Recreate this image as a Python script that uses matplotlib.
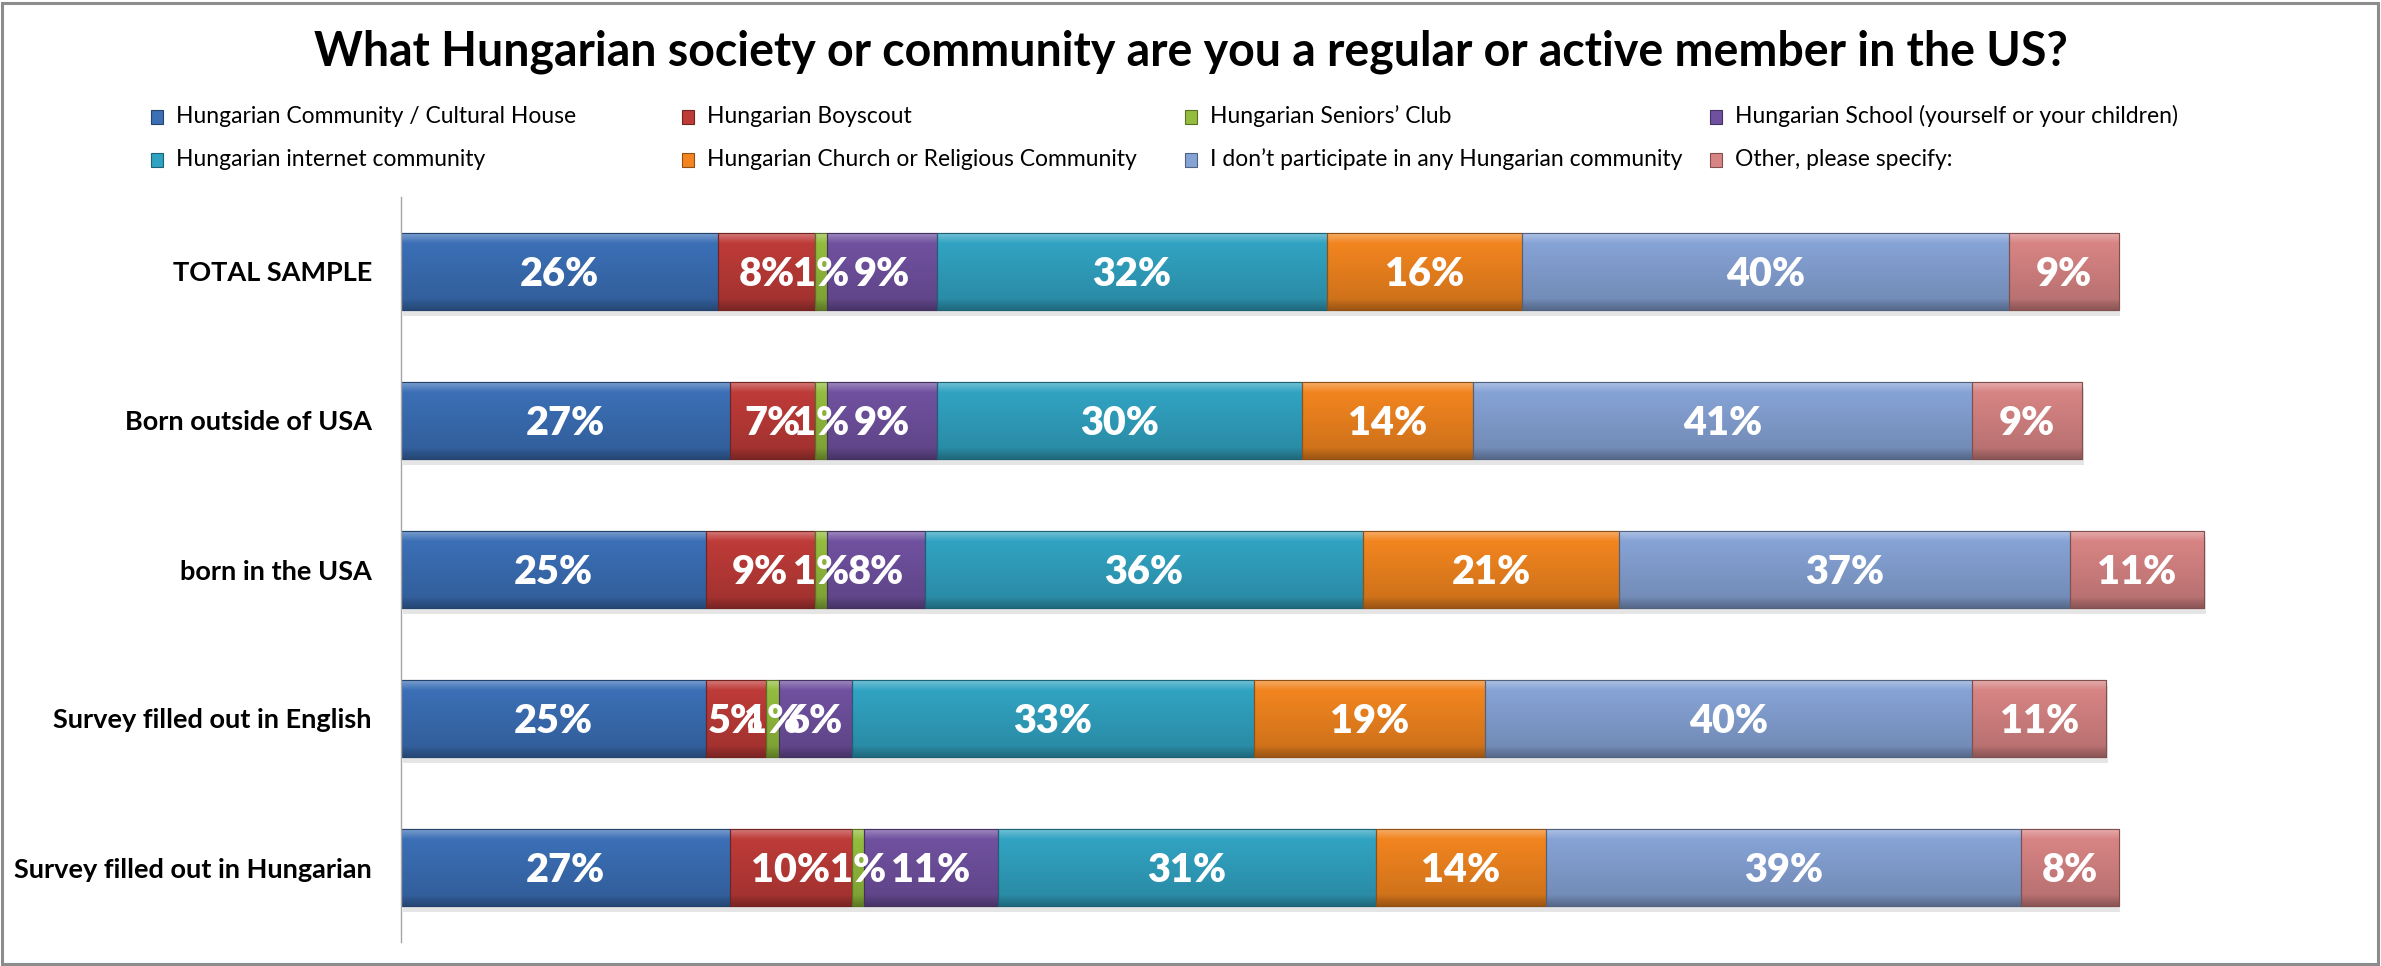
import matplotlib.pyplot as plt
import matplotlib.colors as mcolors
from matplotlib.colors import LinearSegmentedColormap
from matplotlib.patches import Rectangle
import numpy as np

plt.rcParams['font.family'] = ['Lato', 'DejaVu Sans']

title = "What Hungarian society or community are you a regular or active member in the US?"
groups = ['TOTAL SAMPLE', 'Born outside of USA', 'born in the USA',
          'Survey filled out in English', 'Survey filled out in Hungarian']
series = ['Hungarian Community / Cultural House', 'Hungarian Boyscout',
          'Hungarian Seniors\u2019 Club', 'Hungarian School (yourself or your children)',
          'Hungarian internet community', 'Hungarian Church or Religious Community',
          'I don\u2019t participate in any Hungarian community', 'Other, please specify:']

# values in %
community_house = [26, 27, 25, 25, 27]
boyscout = [8, 7, 9, 5, 10]
seniors_club = [1, 1, 1, 1, 1]
school = [9, 9, 8, 6, 11]
internet = [32, 30, 36, 33, 31]
church = [16, 14, 21, 19, 14]
no_community = [40, 41, 37, 40, 39]
other = [9, 9, 11, 11, 8]

colors = ['#3B6FB6', '#BE3B38', '#93BD3E', '#7051A0',
          '#31A3C2', '#F2851F', '#86A3D6', '#D88484']

values = [community_house, boyscout, seniors_club, school,
          internet, church, no_community, other]


def shade(c, f):
    r = np.array(mcolors.to_rgb(c))
    if f > 1:
        return tuple(r + (1 - r) * (f - 1))
    return tuple(r * f)


def bevel_cmap(c):
    return LinearSegmentedColormap.from_list('b', [
        (0.0, shade(c, 1.35)), (0.09, shade(c, 1.12)), (0.14, c),
        (0.86, shade(c, 0.86)), (0.92, shade(c, 0.76)), (1.0, shade(c, 0.65))])


W, H = 2381, 966
fig = plt.figure(figsize=(W / 100, H / 100), dpi=100)
ax = fig.add_axes([401 / W, 24 / H, (2350 - 401) / W, (942 - 197) / H])

y = np.arange(len(groups))
left = np.zeros(len(groups))
grad = np.linspace(0, 1, 100).reshape(-1, 1)
totals = np.sum(values, axis=0)

# soft shadow under each row
ax.barh(y + 0.04, totals, left=0.15, height=0.52, color='black', alpha=0.10,
        zorder=1, linewidth=0)

for vals, name, col in zip(values, series, colors):
    bars = ax.barh(y, vals, left=left, height=0.52, color=col,
                   edgecolor=shade(col, 0.6), linewidth=0.8, label=name, zorder=2)
    cm = bevel_cmap(col)
    for b, v in zip(bars, vals):
        x0, y0, w, h = b.get_x(), b.get_y(), b.get_width(), b.get_height()
        im = ax.imshow(grad, extent=(x0, x0 + w, y0 + h, y0), cmap=cm,
                       aspect='auto', zorder=2.1, interpolation='bilinear')
        im.set_clip_path(b)
        ax.add_patch(Rectangle((x0, y0), w, h, fill=False,
                               edgecolor=shade(col, 0.6), linewidth=0.8, zorder=2.2))
        ax.text(x0 + w / 2, y0 + h / 2 + 0.02, f'{v}%', ha='center', va='center',
                color='white', fontsize=28.5, fontweight='heavy', zorder=3)
    left += vals

ax.set_xlim(0, 160)
ax.set_ylim(4.5, -0.5)
ax.set_yticks(y)
ax.set_yticklabels(groups, fontsize=19.5, fontweight='bold')
ax.tick_params(axis='y', length=0, pad=21)
ax.set_xticks([])
for s in ['top', 'right', 'bottom']:
    ax.spines[s].set_visible(False)
ax.spines['left'].set_color('#A6A6A6')
ax.spines['left'].set_linewidth(1)

fig.text(0.5, 1 - 65 / H, title, ha='center', va='baseline',
         fontsize=33.5, fontweight='bold')

# legend: two rows of four
mx = [157, 688, 1191, 1716]
my = [117, 160]
for i, (name, col) in enumerate(zip(series, colors)):
    cx, cy = mx[i % 4], my[i // 4]
    fig.patches.append(Rectangle(((cx - 6) / W, 1 - (cy + 7) / H), 12 / W, 14 / H,
                                 transform=fig.transFigure, facecolor=col,
                                 edgecolor=shade(col, 0.6), linewidth=0.8))
    fig.text((cx + 19) / W, 1 - (cy + 6) / H, name, ha='left', va='baseline',
             fontsize=16.5)

fig.patches.append(Rectangle((2 / W, 2 / H), 1 - 5 / W, 1 - 5 / H,
                             transform=fig.transFigure, fill=False,
                             edgecolor='#8C8C8C', linewidth=2.2))

fig.savefig('out.png', dpi=100)
